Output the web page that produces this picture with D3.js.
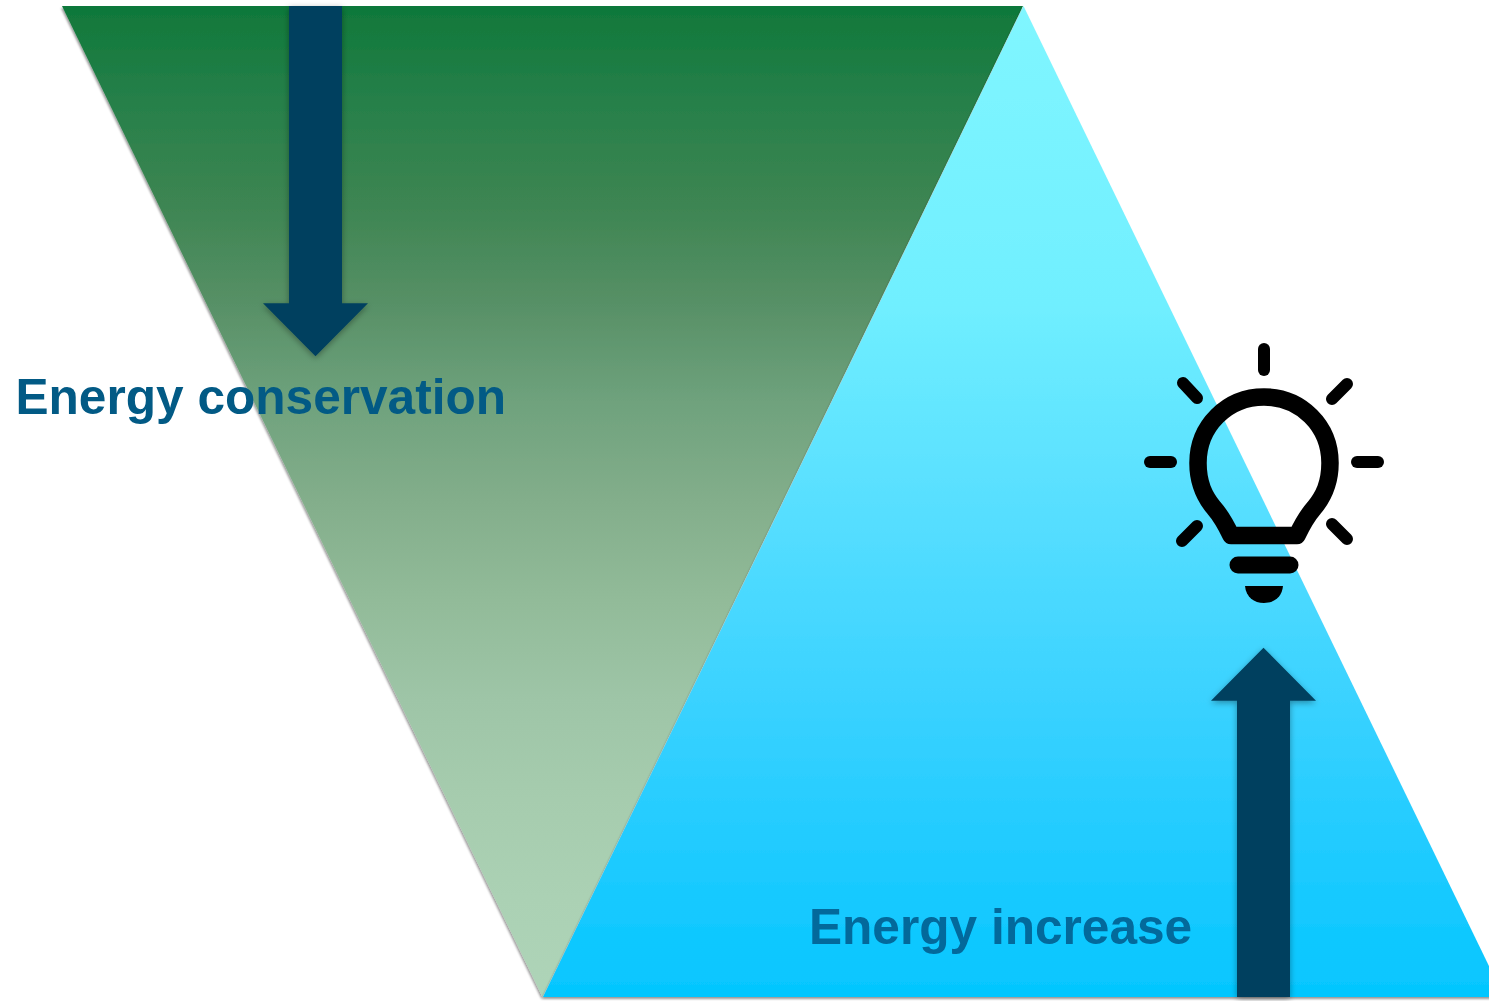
<!DOCTYPE html>
<html>
<head>
<meta charset="utf-8">
<script src="https://cdn.jsdelivr.net/npm/d3@7"></script>
<style>
  html, body { margin: 0; padding: 0; background: #fff; overflow: hidden; }
  svg { display: block; }
  text { font-family: "Liberation Sans", Arial, sans-serif; font-weight: bold; }
</style>
</head>
<body>
<svg id="svg" width="1489" height="1001"></svg>
<script>
// the two wedges: relative width at the top (0) and at the bottom (1) of the picture
const levels = [0, 1];
const conservationWidths = [1, 0];
const increaseWidths = [0, 1];
// arrows run along the same 0-1 level axis
const conservationArrow = [0, 0.3];
const increaseArrow = [1, 0.701];
const labels = ["Energy conservation", "Energy increase"];

const width = 1489, height = 1001;
const svg = d3.select("#svg");

const y = d3.scaleLinear().domain([0, 1]).range([6, 997]);
const w = d3.scaleLinear().domain([0, 1]).range([0, 961]);

const defs = svg.append("defs");

function gradient(id, stops) {
  const g = defs.append("linearGradient").attr("id", id)
    .attr("x1", 0).attr("y1", 0).attr("x2", 0).attr("y2", 1);
  stops.forEach(s => g.append("stop").attr("offset", s[0]).attr("stop-color", s[1]));
}
gradient("greenFade", [[0, "#0f783a"], [0.1, "#27804a"], [0.2, "#3d8552"], [0.3, "#579066"], [0.4, "#6fa27d"],
  [0.5, "#83ae8b"], [0.6, "#92bb99"], [0.7, "#9ec5a7"], [0.8, "#a6ccae"], [0.9, "#abd1b4"], [1, "#aed4b8"]]);
gradient("blueFade", [[0, "#80f6ff"], [0.3, "#70efff"], [0.5, "#58dfff"], [0.7, "#3ad2ff"], [0.85, "#20cbff"], [1, "#04c6ff"]]);

function shadow(id, dx, dy, blur, op) {
  defs.append("filter").attr("id", id)
    .attr("x", "-10%").attr("y", "-10%").attr("width", "120%").attr("height", "120%")
    .append("feDropShadow")
    .attr("dx", dx).attr("dy", dy).attr("stdDeviation", blur)
    .attr("flood-color", "#000").attr("flood-opacity", op);
}
shadow("wedgeShadow", -1, 2, 1.2, 0.4);
shadow("arrowShadow", 0, 2, 3, 0.35);

function wedge(cx, widths, fill) {
  const area = d3.area()
    .y((d, i) => y(levels[i]))
    .x0(d => cx - w(d) / 2)
    .x1(d => cx + w(d) / 2);
  svg.append("path")
    .attr("d", area(widths))
    .attr("fill", "url(#" + fill + ")")
    .attr("filter", "url(#wedgeShadow)");
}
wedge(542.5, conservationWidths, "greenFade");
wedge(1023.5, increaseWidths, "blueFade");

// block arrow from level a[0] to level a[1], head starts at a[1]
function arrow(cx, a) {
  const dir = a[1] > a[0] ? 1 : -1;
  const y0 = y(a[0]), y1 = y(a[1]);
  const p = d3.path();
  p.moveTo(cx - 26.5, y0);
  p.lineTo(cx + 26.5, y0);
  p.lineTo(cx + 26.5, y1);
  p.lineTo(cx + 52.5, y1);
  p.lineTo(cx, y1 + dir * 53);
  p.lineTo(cx - 52.5, y1);
  p.lineTo(cx - 26.5, y1);
  p.closePath();
  svg.append("path").attr("d", p.toString())
    .attr("fill", "#03405f")
    .attr("filter", "url(#arrowShadow)");
}
arrow(315.5, conservationArrow);
arrow(1263.5, increaseArrow);

svg.append("text").attr("x", 15.5).attr("y", 414)
  .attr("font-size", 49.6).attr("fill", "#025a85").text(labels[0]);
svg.append("text").attr("x", 809).attr("y", 943.5)
  .attr("font-size", 49.6).attr("fill", "#03699b").text(labels[1]);

// light bulb icon
const bulb = svg.append("g").attr("transform", "translate(1264,463)");
const ring = d3.path();
ring.moveTo(-33, 72.5);
ring.lineTo(33, 72.5);
ring.bezierCurveTo(38, 62, 43, 53, 50, 45);
ring.bezierCurveTo(60, 33, 66, 20, 66, 0);
ring.bezierCurveTo(66, -37, 37, -66, 0, -66);
ring.bezierCurveTo(-37, -66, -66, -37, -66, 0);
ring.bezierCurveTo(-66, 20, -60, 33, -50, 45);
ring.bezierCurveTo(-43, 53, -38, 62, -33, 72.5);
ring.closePath();
bulb.append("path").attr("d", ring.toString())
  .attr("fill", "none").attr("stroke", "#000")
  .attr("stroke-width", 17.5).attr("stroke-linejoin", "round");

const rays = [
  [0, -114, 0, -93], [-114, -1, -93, -1], [93, -1, 114, -1],
  [-81, -80, -67, -65], [83, -79, 68, -64],
  [-82, 78, -67, 63], [83, 76, 68, 61]
];
bulb.selectAll("line.ray").data(rays).enter().append("line")
  .attr("class", "ray")
  .attr("x1", d => d[0]).attr("y1", d => d[1])
  .attr("x2", d => d[2]).attr("y2", d => d[3])
  .attr("stroke", "#000").attr("stroke-width", 12).attr("stroke-linecap", "round");

bulb.append("line").attr("x1", -26).attr("x2", 26).attr("y1", 102).attr("y2", 102)
  .attr("stroke", "#000").attr("stroke-width", 17).attr("stroke-linecap", "round");

const cap = d3.path();
cap.moveTo(-19, 123);
cap.lineTo(19, 123);
cap.bezierCurveTo(18, 134, 10, 140, 0, 140);
cap.bezierCurveTo(-10, 140, -18, 134, -19, 123);
cap.closePath();
bulb.append("path").attr("d", cap.toString()).attr("fill", "#000");
</script>
</body>
</html>
